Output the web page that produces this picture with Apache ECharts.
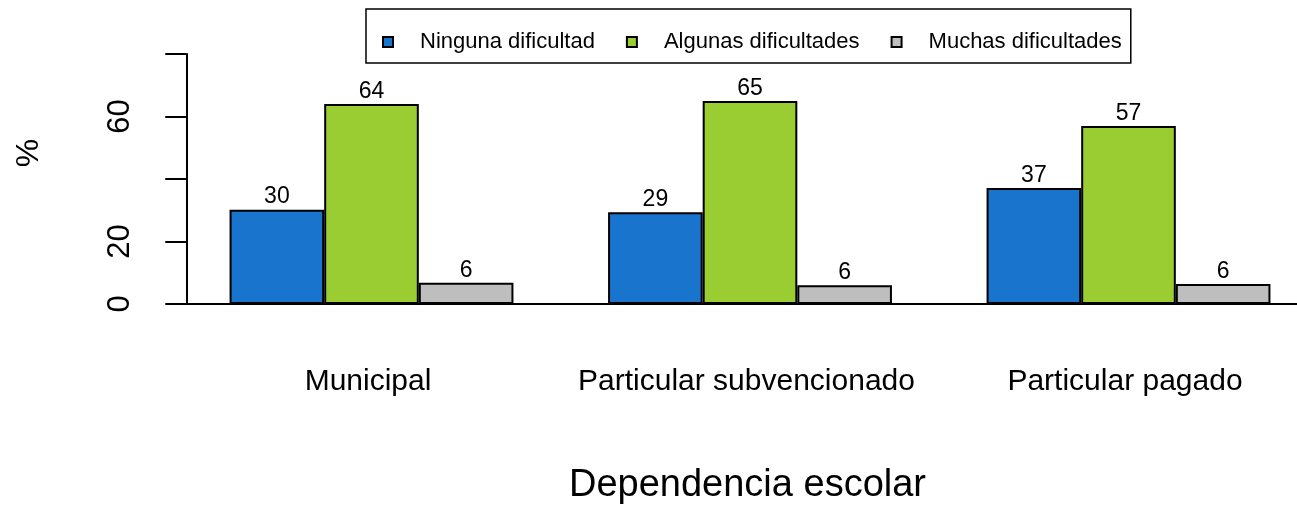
<!DOCTYPE html>
<html>
<head>
<meta charset="utf-8">
<script src="https://cdn.jsdelivr.net/npm/echarts@6/dist/echarts.min.js"></script>
<style>
html,body{margin:0;padding:0;background:#fff;}
#chart{width:1297px;height:509px;}
</style>
</head>
<body>
<div id="chart"></div>
<script>
// ---- data ----
const categories = ['Municipal', 'Particular subvencionado', 'Particular pagado'];
const seriesNames = ['Ninguna dificultad', 'Algunas dificultades', 'Muchas dificultades'];
const ningunaDificultad = [30.2, 29.4, 37.1];
const algunasDificultades = [64.0, 65.0, 57.0];
const muchasDificultades = [6.8, 6.0, 6.4];
const yTicks = [0, 20, 40, 60, 80];
const yTickLabelsShown = [0, 20, 60];
const xAxisTitle = 'Dependencia escolar';
const yAxisTitle = '%';

const seriesColors = ['#1874CD', '#9ACD32', '#BEBEBE'];
const FONT = 'Liberation Sans';

const seriesValues = [ningunaDificultad, algunasDificultades, muchasDificultades];

const chart = echarts.init(document.getElementById('chart'), null, {renderer: 'canvas'});

const option = {
  animation: false,
  backgroundColor: '#fff',
  textStyle: {fontFamily: FONT, color: '#000'},
  legend: {
    data: seriesNames,
    left: 366,
    top: 9,
    orient: 'horizontal',
    icon: 'rect',
    itemWidth: 10,
    itemHeight: 10,
    itemGap: 31,
    borderColor: '#000',
    borderWidth: 1.5,
    padding: [22, 9, 10, 16],
    textStyle: {
      fontFamily: FONT,
      fontSize: 22,
      color: '#000',
      padding: [0, 0, 0, 22]
    }
  },
  grid: {
    left: 182.25,
    width: 1135.5,
    top: 54,
    bottom: 205,
    containLabel: false,
    outerBoundsMode: 'none'
  },
  xAxis: {
    type: 'category',
    data: categories,
    axisLine: {show: true, lineStyle: {color: '#000', width: 2}},
    axisTick: {show: false},
    axisLabel: {interval: 0, fontSize: 30, color: '#000', margin: 63, fontFamily: FONT, padding: [0, 7, 0, 0]},
    name: xAxisTitle,
    nameLocation: 'middle',
    nameGap: 163,
    nameTextStyle: {fontSize: 38, color: '#000', fontFamily: FONT, padding: [0, 5, 0, 0]},
    splitLine: {show: false}
  },
  yAxis: {
    type: 'value',
    min: yTicks[0],
    max: yTicks[yTicks.length - 1],
    interval: yTicks[1] - yTicks[0],
    offset: -4,
    axisLine: {show: true, lineStyle: {color: '#000', width: 2}},
    axisTick: {show: true, length: 21, lineStyle: {color: '#000', width: 2}},
    axisLabel: {
      rotate: 90,
      fontSize: 31,
      color: '#000',
      margin: 50,
      fontFamily: FONT,
      formatter: function (v) { return yTickLabelsShown.indexOf(v) >= 0 ? String(v) : ''; }
    },
    splitLine: {show: false},
    name: yAxisTitle,
    nameLocation: 'middle',
    nameRotate: 90,
    nameGap: 141,
    nameTextStyle: {fontSize: 32, color: '#000', fontFamily: FONT, padding: [0, 0, 0, 52]}
  },
  series: seriesNames.map(function (name, i) {
    return {
      name: name,
      type: 'bar',
      data: seriesValues[i],
      barGap: '0%',
      barCategoryGap: '25%',
      itemStyle: {color: seriesColors[i], borderColor: '#000', borderWidth: 2},
      label: {
        show: true,
        position: 'top',
        distance: 1,
        fontSize: 23,
        color: '#000',
        fontFamily: FONT,
        formatter: function (p) { return String(Math.floor(p.value)); }
      }
    };
  })
};

chart.setOption(option);
</script>
</body>
</html>
